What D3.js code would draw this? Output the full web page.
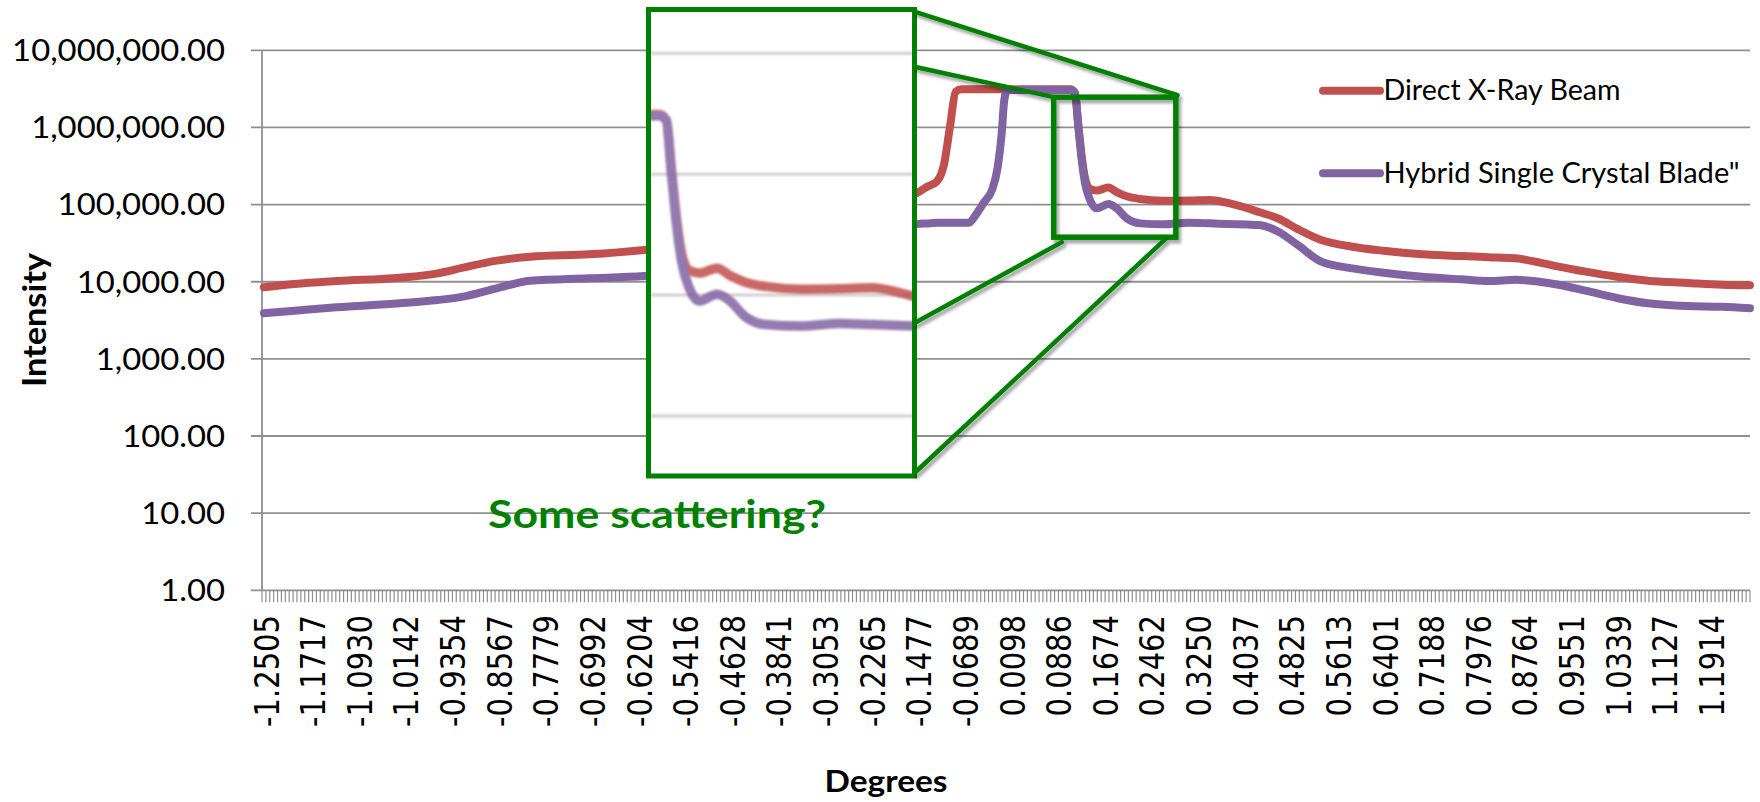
<!DOCTYPE html>
<html><head><meta charset="utf-8">
<script src="https://cdn.jsdelivr.net/npm/d3@7"></script>
<style>html,body{margin:0;padding:0;background:#fff;} svg{display:block;}</style>
</head><body><svg id="chart" width="1760" height="802"></svg>
<script>
// ---------------- data ----------------
const categoryStart = -1.2505;
const categoryStep = 0.0065642;
const categoryCount = 383;

const xTickLabels = ["-1.2505","-1.1717","-1.0930","-1.0142","-0.9354","-0.8567","-0.7779","-0.6992",
  "-0.6204","-0.5416","-0.4628","-0.3841","-0.3053","-0.2265","-0.1477","-0.0689","0.0098","0.0886",
  "0.1674","0.2462","0.3250","0.4037","0.4825","0.5613","0.6401","0.7188","0.7976","0.8764","0.9551",
  "1.0339","1.1127","1.1914"];

const yTickValues = [1, 10, 100, 1000, 10000, 100000, 1000000, 10000000];
const yTickLabels = ["1.00","10.00","100.00","1,000.00","10,000.00","100,000.00","1,000,000.00","10,000,000.00"];

const seriesNames = ["Direct X-Ray Beam", "Hybrid Single Crystal Blade\""];

const degrees = [-1.2505,-1.1987,-1.1276,-1.0210,-0.9569,-0.9142,-0.8574,-0.8010,-0.7013,-0.6084,
  -0.1483,-0.1302,-0.1140,-0.1011,-0.0914,-0.0817,-0.0720,-0.0593,-0.0461,-0.0332,-0.0204,-0.0106,-0.0040,
  0.0004,0.0057,0.1122,0.1198,0.1254,0.1312,0.1368,0.1452,0.1565,0.1761,0.1903,0.2072,0.2297,0.2690,
  0.3123,0.3480,0.3780,0.4110,0.4306,0.4635,0.4963,0.5359,0.5884,0.6410,0.7067,0.7724,0.8184,0.8645,
  0.9039,0.9368,0.9828,1.0353,1.0880,1.1538,1.2128,1.2603];

const directBeam = [8470,9340,10200,11270,12850,15200,18750,21100,22650,25800,
  140000,170600,198000,343000,1023000,2900000,3120000,3120000,3120000,3120000,3120000,3120000,3120000,
  3120000,3120000,3120000,2800000,1100000,420000,220000,160000,152000,167000,145000,128000,118000,112000,
  113000,115000,105000,89600,80000,66000,48000,34700,28400,25200,22700,21500,20800,20100,
  17800,15700,13500,11600,10300,9660,9140,9000];

const hybridBlade = [3900,4210,4660,5250,5790,6400,8220,10300,11070,11860,
  56000,57000,58000,58200,58200,58200,58200,58200,77100,109000,154500,310000,840000,
  2270000,3050000,3050000,2770000,1023000,378000,189000,114600,89500,101600,89500,66400,57100,55400,
  58200,57100,56000,55000,54300,44500,29900,18200,14900,13100,11600,10740,10200,10600,
  10000,9140,7650,6150,5250,4840,4740,4520];

const annotationText = "Some scattering?";
const xTitle = "Degrees";
const yTitle = "Intensity";
// highlighted region (data space) and the range shown in the magnified inset
const zoomRegionDegrees = [0.0838, 0.2902];
const zoomRegionIntensity = [2470000, 37800];
const insetDegrees = [0.100, 0.395];
const insetGridValues = [10000, 100000, 1000000, 10000000];

// ---------------- layout ----------------
const plot = {left: 262, right: 1750, top: 50.3, bottom: 590.3};
const inset = {x: 648.5, y: 9.5, w: 266, h: 466.5};
const colors = ["#C0504D", "#8064A2"];
const green = "#008000";
const gridColor = "#8f8f8f";
const calibriLike = "Lato, 'Open Sans', sans-serif";

const svg = d3.select("#chart");
svg.append("rect").attr("width",1760).attr("height",802).attr("fill","#fff");

const defs = svg.append("defs");
const sh = defs.append("filter").attr("id","shadow").attr("filterUnits","userSpaceOnUse")
  .attr("x",0).attr("y",0).attr("width",1760).attr("height",802);
sh.append("feDropShadow").attr("dx",2.5).attr("dy",3.5).attr("stdDeviation",1.6)
  .attr("flood-color","#000").attr("flood-opacity",0.35);
const blur = defs.append("filter").attr("id","soft");
blur.append("feGaussianBlur").attr("stdDeviation",0.8);
defs.append("clipPath").attr("id","insetClip").append("rect")
  .attr("x",inset.x).attr("y",inset.y).attr("width",inset.w).attr("height",inset.h);

const x = d3.scaleLinear()
  .domain([categoryStart - categoryStep/2, categoryStart + (categoryCount - 0.5)*categoryStep])
  .range([plot.left, plot.right]);
const y = d3.scaleLog().domain([1, 1e7]).range([plot.bottom, plot.top]);

// gridlines
svg.append("g").selectAll("line").data(yTickValues).join("line")
  .attr("x1", plot.left - 11).attr("x2", plot.right)
  .attr("y1", d => y(d)).attr("y2", d => y(d))
  .attr("stroke", gridColor).attr("stroke-width", 1.8);
// y axis line
svg.append("line").attr("x1",plot.left).attr("x2",plot.left).attr("y1",plot.top).attr("y2",plot.bottom)
  .attr("stroke",gridColor).attr("stroke-width",1.8);
// category tick marks
const tickPos = d3.range(categoryCount + 1).map(k => categoryStart + (k - 0.5)*categoryStep);
svg.append("g").selectAll("line").data(tickPos).join("line")
  .attr("x1", d => x(d)).attr("x2", d => x(d))
  .attr("y1", plot.bottom).attr("y2", plot.bottom + 12)
  .attr("stroke", gridColor).attr("stroke-width", 1.2);

// y labels
const yl = svg.append("g").selectAll("text").data(yTickValues).join("text")
  .attr("text-anchor","end").attr("dy","0.35em")
  .attr("font-family", calibriLike).attr("font-size", 31).attr("fill","#000")
  .text((d,i) => yTickLabels[i]);
let maxLen = 0;
yl.each(function(){ maxLen = Math.max(maxLen, this.getComputedTextLength()); });
const ysx = 213 / maxLen;
yl.attr("transform", d => `translate(225,${y(d)}) scale(${ysx},1)`);

// x labels
svg.append("g").selectAll("text").data(xTickLabels).join("text")
  .attr("text-anchor","end").attr("dy","0.35em")
  .attr("font-family","'DejaVu Sans', Verdana, sans-serif").attr("font-size", 29).attr("fill","#000")
  .attr("transform", d => `translate(${x(+d) + 3},615) scale(1.15,1) rotate(-90)`)
  .text(d => d);

// axis titles
svg.append("text").attr("text-anchor","middle")
  .attr("font-family", calibriLike).attr("font-weight","bold").attr("font-size",28)
  .attr("textLength",134).attr("lengthAdjust","spacingAndGlyphs")
  .attr("transform","translate(46,320) scale(1.15,1) rotate(-90)").text(yTitle);
svg.append("text").attr("x",886).attr("y",792).attr("text-anchor","middle")
  .attr("font-family", calibriLike).attr("font-weight","bold").attr("font-size",30)
  .attr("textLength",123).attr("lengthAdjust","spacingAndGlyphs").text(xTitle);

// series
const seriesData = [directBeam, hybridBlade];
const line = d3.line().x(d => x(d[0])).y(d => y(d[1])).curve(d3.curveMonotoneX);
seriesData.forEach((vals, i) => {
  svg.append("path").datum(degrees.map((d, j) => [d, vals[j]]))
    .attr("d", line).attr("fill","none").attr("stroke", colors[i]).attr("stroke-width", 8)
    .attr("stroke-linejoin","round").attr("stroke-linecap","round");
});

// legend
const legendY = [90.7, 173.3];
const legendW = [237, 356];
seriesNames.forEach((name, i) => {
  svg.append("line").attr("x1",1323).attr("x2",1380).attr("y1",legendY[i]).attr("y2",legendY[i])
    .attr("stroke",colors[i]).attr("stroke-width",8).attr("stroke-linecap","round");
  svg.append("text").attr("x",1383.5).attr("y",legendY[i] + 9.7)
    .attr("font-family", calibriLike).attr("font-size",28).attr("fill","#000")
    .attr("textLength",legendW[i]).attr("lengthAdjust","spacingAndGlyphs").text(name);
});

// ---------------- magnified inset ----------------
const xi = d3.scaleLinear().domain(insetDegrees).range([inset.x, inset.x + inset.w]);
const yi = d3.scaleLog().domain([1e4, 1e7]).range([416, 53.3]);
const ig = svg.append("g").attr("clip-path","url(#insetClip)");
ig.append("rect").attr("x",inset.x).attr("y",inset.y).attr("width",inset.w).attr("height",inset.h).attr("fill","#fff");
ig.append("g").attr("filter","url(#soft)").selectAll("line").data(insetGridValues).join("line")
  .attr("x1",inset.x).attr("x2",inset.x+inset.w).attr("y1",d=>yi(d)).attr("y2",d=>yi(d))
  .attr("stroke","#cfcfcf").attr("stroke-width",3);
const iline = d3.line().x(d => xi(d[0])).y(d => yi(d[1])).curve(d3.curveMonotoneX);
const ic = ig.append("g").attr("filter","url(#soft)").attr("opacity",0.85);
seriesData.forEach((vals, i) => {
  ic.append("path").datum(degrees.map((d, j) => [d, vals[j]]))
    .attr("d", iline).attr("fill","none").attr("stroke", colors[i]).attr("stroke-width", 9.5)
    .attr("stroke-linejoin","round").attr("stroke-linecap","round");
});
svg.append("rect").attr("x",inset.x).attr("y",inset.y).attr("width",inset.w).attr("height",inset.h)
  .attr("fill","none").attr("stroke",green).attr("stroke-width",5);

// highlighted region box + connectors
const bx0 = x(zoomRegionDegrees[0]), bx1 = x(zoomRegionDegrees[1]);
const by0 = y(zoomRegionIntensity[0]), by1 = y(zoomRegionIntensity[1]);
const ir = inset.x + inset.w;
const connectors = [
  [[ir, inset.y + 2.2], [bx1 + 1.7, by0 - 2]],
  [[ir, 66.7], [bx0, by0]],
  [[ir, 323], [bx0 + 8, by1 + 5]],
  [[ir, inset.y + inset.h - 3], [bx1 - 9.5, by1 + 1]]
];
const ag = svg.append("g").attr("filter","url(#shadow)");
ag.selectAll("line").data(connectors).join("line")
  .attr("x1",d=>d[0][0]).attr("y1",d=>d[0][1]).attr("x2",d=>d[1][0]).attr("y2",d=>d[1][1])
  .attr("stroke",green).attr("stroke-width",4.5).attr("stroke-linecap","round");
ag.append("rect").attr("x",bx0).attr("y",by0).attr("width",bx1-bx0).attr("height",by1-by0)
  .attr("fill","none").attr("stroke",green).attr("stroke-width",5.5);

svg.append("text").attr("x",488).attr("y",528)
  .attr("font-family", calibriLike).attr("font-weight","bold").attr("font-size",39).attr("fill",green)
  .attr("textLength",338).attr("lengthAdjust","spacingAndGlyphs").text(annotationText);
</script></body></html>
